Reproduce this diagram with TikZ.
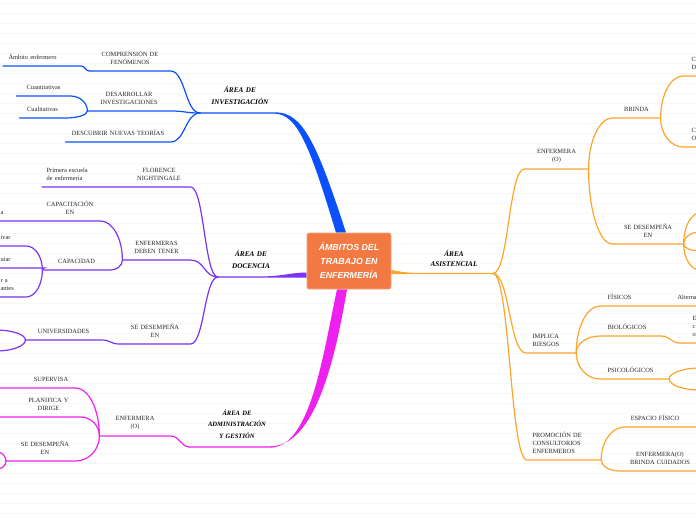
\documentclass[tikz,border=0pt]{standalone}
\usepackage{fontspec}
\setmainfont{Liberation Serif}
\newfontfamily\rootfont{Liberation Sans}
\usetikzlibrary{calc,backgrounds}
\definecolor{cinv}{HTML}{0A50FF}
\definecolor{cdoc}{HTML}{7B33F5}
\definecolor{cadm}{HTML}{EE20EE}
\definecolor{casi}{HTML}{FBA52A}
\definecolor{croot}{HTML}{F27A42}
\tikzset{
  twig/.style={anchor=south, align=center, inner xsep=0pt, inner ysep=5.5pt,
    font=\fontsize{6.4}{8}\selectfont, text=black!85},
  arealbl/.style={anchor=south, align=center, inner xsep=0pt, inner ysep=8pt,
    font=\bfseries\itshape\fontsize{7.2}{11.5}\selectfont},
  hubbox/.style={fill=croot, draw=croot!70!white, line width=0.6pt, rounded corners=2pt,
    minimum width=84pt, minimum height=56pt, align=center, text=white,
    font=\rootfont\bfseries\itshape\fontsize{8.8}{14}\selectfont},
  swingto/.style={to path={.. controls ($(\tikztostart)!0.5!(\tikztotarget|-\tikztostart)$)
    and ($(\tikztotarget)!0.5!(\tikztostart|-\tikztotarget)$) .. (\tikztotarget)}},
  bracketto/.style={to path={.. controls ($(\tikztostart)!0.55!(\tikztostart|-\tikztotarget)$)
    and ($(\tikztotarget)!0.55!(\tikztostart|-\tikztotarget)$) .. (\tikztotarget)}},
}
\begin{document}
\begin{tikzpicture}[x=1pt, y=-1pt, line cap=round, line width=1.2pt]
    \useasboundingbox (0,0) rectangle (696,520);
    \clip (0,0) rectangle (696,520);

    % Central topic
    \node[hubbox] (root) at (349,261) {ÁMBITOS DEL\\TRABAJO EN\\ENFERMERÍA};

    % Hubs of the four areas
    \coordinate (inv) at (200,113);
    \coordinate (doc) at (218,277);
    \coordinate (adm) at (190,447);
    \coordinate (asi) at (493,273.5);

    \begin{scope}[on background layer]
    % Ruled paper
    \foreach \y in {3,13,...,513}
        \draw[gray!6, line width=0.8pt] (0,\y) -- (696,\y);
    % Main branches
    \fill[cinv] ([xshift=-3pt]root.north) .. controls (316,140) and (302,112.3) .. (275,112.3)
        -- ([yshift=0.7pt]inv) -- ([yshift=-0.7pt]inv) -- (275,113.7)
        .. controls (298,114) and (311,150) .. ([xshift=-13pt]root.north) -- cycle;
    \fill[cdoc] ([yshift=-11.5pt]root.west) .. controls (292,272.5) and (282,276.3) .. (262,276.4)
        -- ([yshift=0.7pt]doc) -- ([yshift=-0.7pt]doc) -- (262,277.7)
        .. controls (285,277.7) and (295,277.6) .. ([yshift=-16.5pt]root.west) -- cycle;
    \fill[cadm] ([xshift=-2pt]root.south) .. controls (335,360) and (315,446.3) .. (270,446.3)
        -- ([yshift=0.7pt]adm) -- ([yshift=-0.7pt]adm) -- (270,447.7)
        .. controls (310,447) and (322,360) .. ([xshift=-12pt]root.south) -- cycle;
    \fill[casi] ([yshift=-9pt]root.east) .. controls (400,271.5) and (405,272.9) .. (420,272.9)
        -- ([yshift=0.6pt]asi) -- ([yshift=-0.6pt]asi) -- (420,274.1)
        .. controls (405,274.1) and (400,274) .. ([yshift=-13pt]root.east) -- cycle;
    \end{scope}

    % Research area
    \node[arealbl, text width=80pt] (invl) at (240,113) {ÁREA DE\\INVESTIGACIÓN};
    \node[twig, text width=80pt] (comp) at (130,71) {COMPRENSIÓN DE\\FENÓMENOS};
    \node[twig, text width=77pt, anchor=south west, align=left] (amb) at (3,66) {\hspace*{5pt}Ámbito enfermero};
    \node[twig, text width=82pt] (des) at (129,111) {DESARROLLAR\\INVESTIGACIONES};
    \node[twig, text width=53pt] (cuan) at (43.5,96) {Cuantitativas};
    \node[twig, text width=45pt] (cual) at (42.5,118) {Cualitativas};
    \node[twig, text width=104pt] (teo) at (118,142) {DESCUBRIR NUEVAS TEORÍAS};
    \begin{scope}[cinv]
    \draw (inv) to[swingto] (comp.south east) -- (comp.south west) to[swingto] (amb.south east) -- (amb.south west);
    \draw (inv) to[swingto] (des.south east) -- (des.south west);
    \draw (des.south west) to[bracketto] (cuan.south east) -- (cuan.south west);
    \draw (des.south west) to[bracketto] (cual.south east) -- (cual.south west);
    \draw (inv) to[swingto] (teo.south east) -- (teo.south west);
    \end{scope}

    % Teaching area
    \node[arealbl, text width=66pt] (docl) at (251,277) {ÁREA DE\\DOCENCIA};
    \node[twig, text width=62pt] (flo) at (159,187) {FLORENCE\\NIGHTINGALE};
    \node[twig, text width=78pt, inner xsep=4pt, anchor=south west, align=left] (pri) at (42,187) {Primera escuela\\de enfermería};
    \node[twig, text width=67pt] (ent) at (156.5,260) {ENFERMERAS\\DEBEN TENER};
    \node[twig, text width=60pt] (cap) at (70,221) {CAPACITACIÓN\\EN};
    \node[twig, text width=12pt, anchor=south east, align=right] (capa) at (4,221) {a};
    \node[twig, text width=67pt] (cpd) at (76.5,270) {CAPACIDAD};
    \node[twig, text width=25pt, anchor=south west, align=left] (ivar) at (0,246) {ivar};
    \node[twig, text width=43pt, anchor=south west, align=left] (uiar) at (0,268) {uiar};
    \node[twig, text width=25pt, anchor=south west, align=left] (ra) at (0,297) {r a\\antes};
    \node[twig, text width=70pt] (sdp) at (155,344) {SE DESEMPEÑA\\EN};
    \node[twig, text width=75pt] (uni) at (63.5,340) {UNIVERSIDADES};
    \coordinate (uni1) at (-4,330);
    \coordinate (uni2) at (-4,351);
    \begin{scope}[cdoc]
    \draw (doc) to[swingto] (flo.south east) -- (flo.south west) -- (pri.south west);
    \draw (doc) to[swingto] (ent.south east) -- (ent.south west);
    \draw (ent.south west) to[bracketto] (cap.south east) -- (cap.south west) -- (capa.south west);
    \draw (ent.south west) to[bracketto] (cpd.south east) -- (cpd.south west);
    \draw (cpd.south west) to[bracketto] (ivar.south east) -- (ivar.south west);
    \draw (cpd.south west) to[bracketto] (uiar.south east) -- (uiar.south west);
    \draw (cpd.south west) to[bracketto] (ra.south east) -- (ra.south west);
    \draw (doc) to[swingto] (sdp.south east) -- (sdp.south west) to[swingto] (uni.south east) -- (uni.south west);
    \draw (uni.south west) to[bracketto] (uni1);
    \draw (uni.south west) to[bracketto] (uni2);
    \end{scope}

    % Administration area
    \node[arealbl, text width=90pt, font=\bfseries\itshape\fontsize{6.6}{11.5}\selectfont] (adml) at (237,447) {ÁREA DE\\ADMINISTRACIÓN\\Y GESTIÓN};
    \node[twig, text width=70pt] (enf) at (135,436) {ENFERMERA\\(O)};
    \node[twig, text width=48pt] (sup) at (51,388) {SUPERVISA};
    \node[twig, text width=63pt] (pla) at (48.5,417) {PLANIFICA Y\\DIRIGE};
    \node[twig, text width=60pt] (sde) at (45,461) {SE DESEMPEÑA\\EN};
    \coordinate (sdeh) at (6,461);
    \coordinate (sdeu) at (-3,452);
    \coordinate (sded) at (-3,469);
    \begin{scope}[cadm]
    \draw (adm) to[swingto] (enf.south east) -- (enf.south west);
    \draw (enf.south west) to[bracketto] (sup.south east) -- (sup.south west) -- ++(-30,0);
    \draw (enf.south west) to[bracketto] (pla.south east) -- (pla.south west) -- ++(-20,0);
    \draw (enf.south west) to[bracketto] (sde.south east) -- (sde.south west) -- (sdeh);
    \draw (sdeh) to[bracketto] (sdeu);
    \draw (sdeh) to[bracketto] (sded);
    \end{scope}

    % Care area
    \node[arealbl, text width=78pt, inner ysep=6.5pt, font=\bfseries\itshape\fontsize{7.2}{9.5}\selectfont] (asil) at (454,273.5) {ÁREA\\ASISTENCIAL};
    \node[twig, text width=63pt] (enfo) at (556.5,169) {ENFERMERA\\(O)};
    \node[twig, text width=47pt] (bri) at (636.5,118) {BRINDA};
    \node[twig, text width=10pt, inner xsep=8pt, anchor=south west, align=left] (cu1) at (683,76) {CU\\D};
    \node[twig, text width=10pt, inner xsep=8pt, anchor=south west, align=left] (cu2) at (683,147) {CU\\O};
    \node[twig, text width=70pt] (sdo) at (648,244) {SE DESEMPEÑA\\EN};
    \coordinate (sdo1) at (700,213);
    \coordinate (sdo2) at (700,232);
    \coordinate (sdo3) at (700,251);
    \coordinate (sdo4) at (700,270);
    \node[twig, text width=37pt, inner xsep=6pt, anchor=south west, align=left] (imp) at (526,353) {IMPLICA\\RIESGOS};
    \node[twig, text width=56pt, inner xsep=7pt, anchor=south west, align=left] (fis) at (600,306) {FÍSICOS};
    \node[twig, text width=20pt, inner xsep=7pt, anchor=south west, align=left] (alt) at (670,306) {Alterna};
    \node[twig, text width=46pt, inner xsep=7pt, anchor=south west, align=left] (bio) at (600,336) {BIOLÓGICOS};
    \node[twig, text width=10pt, inner xsep=12pt, anchor=south west, align=left] (bioc) at (680,343) {E\\c\\o};
    \node[twig, text width=54pt, inner xsep=7pt, anchor=south west, align=left] (psi) at (600,379) {PSICOLÓGICOS};
    \coordinate (psi1) at (700,368);
    \coordinate (psi2) at (700,390);
    \node[twig, text width=63pt, inner xsep=5pt, anchor=south west, align=left] (pro) at (527,460) {PROMOCIÓN DE\\CONSULTORIOS\\ENFERMEROS};
    \node[twig, text width=60pt] (esp) at (655,427) {ESPACIO FÍSICO};
    \node[twig, text width=80pt] (ebc) at (660,471) {ENFERMERA(O)\\BRINDA CUIDADOS};
    \begin{scope}[casi]
    \draw (asi) to[swingto] (enfo.south west) -- (enfo.south east);
    \draw (enfo.south east) to[bracketto] (bri.south west) -- (bri.south east);
    \draw (bri.south east) to[bracketto] (cu1.south west) -- (cu1.south east);
    \draw (bri.south east) to[bracketto] (cu2.south west) -- (cu2.south east);
    \draw (enfo.south east) to[bracketto] (sdo.south west) -- (sdo.south east);
    \foreach \k in {1,...,4}
        \draw (sdo.south east) to[bracketto] (sdo\k);
    \draw (asi) to[swingto] (imp.south west) -- (imp.south east);
    \draw (imp.south east) to[bracketto] (fis.south west) -- (fis.south east) -- (alt.south east);
    \draw (imp.south east) to[bracketto] (bio.south west) -- (bio.south east) to[swingto] (bioc.south west) -- (bioc.south east);
    \draw (imp.south east) to[bracketto] (psi.south west) -- (psi.south east);
    \draw (psi.south east) to[bracketto] (psi1);
    \draw (psi.south east) to[bracketto] (psi2);
    \draw (asi) to[swingto] (pro.south west) -- (pro.south east);
    \draw (pro.south east) to[bracketto] (esp.south west) -- (esp.south east) -- ++(15,0);
    \draw (pro.south east) to[bracketto] (ebc.south west) -- (ebc.south east);
    \end{scope}
\end{tikzpicture}
\end{document}
